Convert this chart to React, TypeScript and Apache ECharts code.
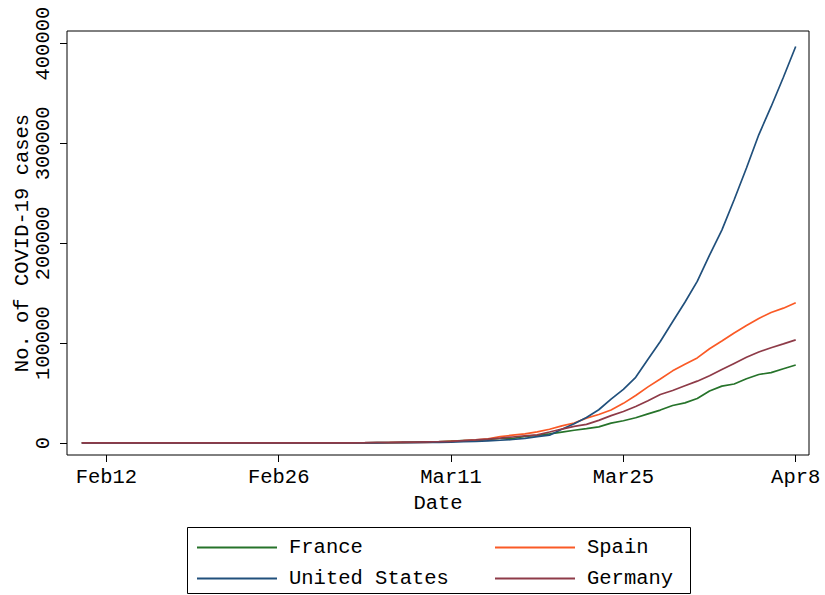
import React, { useEffect, useRef } from "react";
import * as echarts from "echarts";

// Daily cumulative confirmed cases, one value per day starting at startDate
const startDate = "2020-02-10";

const france = [
  11, 11, 11, 11, 11, 11, 12, 12, 12, 12, 12, 12, 12, 12, 12, 12, 14, 18, 38, 57,
  100, 130, 191, 204, 288, 380, 656, 957, 1134, 1217, 1792, 2290, 2290, 3678, 4487, 4523,
  6668, 7699, 9105, 10947, 12726, 14431, 16176, 19856, 22304, 25233, 29155, 32964, 37575,
  40174, 44550,
  52128, 56989, 59105, 64338, 68605, 70478, 74390, 78167,
];

const unitedStates = [
  11, 11, 12, 12, 13, 13, 13, 13, 13, 13, 13, 13, 15, 15, 15, 51, 51, 57, 58, 60,
  68, 74, 98, 118, 149, 217, 262, 402, 518, 583, 959, 1281, 1663, 2179, 2726, 3499, 4632,
  6421, 7783, 13747, 19273, 25600, 33276, 43843, 53736, 65778, 83836, 101657, 121465,
  140909, 161831,
  188172, 213242, 243622, 275367, 308650, 336802, 366317, 397121,
];

const spain = [
  2, 2, 2, 2, 2, 2, 2, 2, 2, 2, 2, 2, 2, 2, 2, 2, 2, 13, 15, 32,
  45, 84, 120, 165, 222, 259, 400, 500, 673, 1073, 1695, 2277, 3146, 4231, 6391, 7798,
  9191, 11178, 13716, 17147, 19980, 24926, 28572, 33089, 39673, 47610, 56188, 64059,
  72248, 78797, 85195,
  94417, 102136, 110238, 117710, 124736, 130759, 135032, 140510,
];

const germany = [
  14, 14, 16, 16, 16, 16, 16, 16, 16, 16, 16, 16, 16, 16, 16, 16, 18, 26, 53, 57,
  129, 157, 196, 262, 534, 639, 795, 902, 1139, 1296, 1567, 2369, 3062, 3795, 4838, 6012,
  7156, 8198, 10999, 13957, 16662, 18610, 22672, 27436, 31554, 36508, 42288, 48582,
  52547, 57298, 61913,
  67366, 73522, 79696, 85778, 91159, 95391, 99225, 103228,
];

const tickDates = ["2020-02-12", "2020-02-26", "2020-03-11", "2020-03-25", "2020-04-08"];
const tickLabels = ["Feb12", "Feb26", "Mar11", "Mar25", "Apr8"];
const yTicks = [0, 100000, 200000, 300000, 400000];

const seriesNames = ["France", "Spain", "United States", "Germany"];
const seriesColors = ["#26732a", "#fa5a26", "#21507c", "#8e3b48"];

const DAY = 86400000;
const origin = Date.parse("2020-02-12T00:00:00Z");
const dayNum = (s: string) => Math.round((Date.parse(s + "T00:00:00Z") - origin) / DAY);
const startDay = dayNum(startDate);
const toPairs = (arr: number[]) => arr.map((v, i) => [startDay + i, v]);
const tickDays = tickDates.map(dayNum);

const FONT = "Liberation Mono";
const FS = 20.5;

export default function App() {
  const ref = useRef<HTMLDivElement>(null);
  useEffect(() => {
    if (!ref.current) return;
    const chart = echarts.init(ref.current, null, { renderer: "svg" });
    const dataMap: Record<string, number[]> = {
      France: france,
      Spain: spain,
      "United States": unitedStates,
      Germany: germany,
    };
    const legendPos = [
      { name: "France", left: 197, top: 534 },
      { name: "Spain", left: 495, top: 534 },
      { name: "United States", left: 197, top: 565 },
      { name: "Germany", left: 495, top: 565 },
    ];
    chart.setOption({
      animation: false,
      backgroundColor: "#ffffff",
      textStyle: { fontFamily: FONT },
      grid: {
        left: 67,
        right: 16,
        top: 31,
        bottom: 140,
        show: true,
        borderColor: "#000000",
        borderWidth: 1,
        backgroundColor: "#ffffff",
        containLabel: false,
        outerBoundsMode: "none",
      },
      xAxis: {
        type: "value",
        min: -3.2,
        max: 57.08,
        splitLine: { show: false },
        axisLine: { show: false, onZero: false },
        axisTick: {
          show: true,
          inside: false,
          length: 7,
          customValues: tickDays,
          lineStyle: { color: "#000000", width: 1 },
        },
        axisLabel: {
          customValues: tickDays,
          margin: 12,
          color: "#000000",
          fontFamily: FONT,
          fontSize: FS,
          formatter: (v: number) => {
            const i = tickDays.indexOf(Math.round(v));
            return i >= 0 ? tickLabels[i] : "";
          },
        },
        name: "Date",
        nameLocation: "middle",
        nameGap: 38,
        nameMoveOverlap: false,
        nameTextStyle: { color: "#000000", fontFamily: FONT, fontSize: FS },
      },
      yAxis: {
        type: "value",
        min: -12036,
        max: 412638,
        splitLine: { show: false },
        axisLine: { show: false, onZero: false },
        axisTick: {
          show: true,
          inside: false,
          length: 7,
          customValues: yTicks,
          lineStyle: { color: "#000000", width: 1 },
        },
        axisLabel: {
          customValues: yTicks,
          rotate: 90,
          margin: 13,
          color: "#000000",
          fontFamily: FONT,
          fontSize: FS,
          formatter: (v: number) => String(Math.round(v)),
        },
        name: "No. of COVID-19 cases",
        nameLocation: "middle",
        nameGap: 34,
        nameMoveOverlap: false,
        nameTextStyle: { color: "#000000", fontFamily: FONT, fontSize: FS },
      },
      legend: legendPos.map((p) => ({
        data: [p.name],
        left: p.left,
        top: p.top,
        padding: 0,
        icon: "rect",
        itemWidth: 80,
        itemHeight: 2,
        selectedMode: false,
        textStyle: {
          color: "#000000",
          fontFamily: FONT,
          fontSize: FS,
          lineHeight: 22,
          padding: [5, 0, 0, 7],
        },
      })),
      graphic: [
        {
          type: "rect",
          shape: { x: 187.5, y: 527.5, width: 503, height: 66 },
          style: { fill: "none", stroke: "#000000", lineWidth: 1 },
          silent: true,
        },
      ],
      series: seriesNames.map((n, i) => ({
        name: n,
        type: "line",
        data: toPairs(dataMap[n]),
        showSymbol: false,
        symbol: "none",
        color: seriesColors[i],
        lineStyle: { color: seriesColors[i], width: 1.7 },
        z: 2 + i,
      })),
    });
    return () => chart.dispose();
  }, []);
  return (
    <div
      ref={ref}
      style={{ position: "absolute", left: 0, top: 0, width: 825, height: 595 }}
    />
  );
}
